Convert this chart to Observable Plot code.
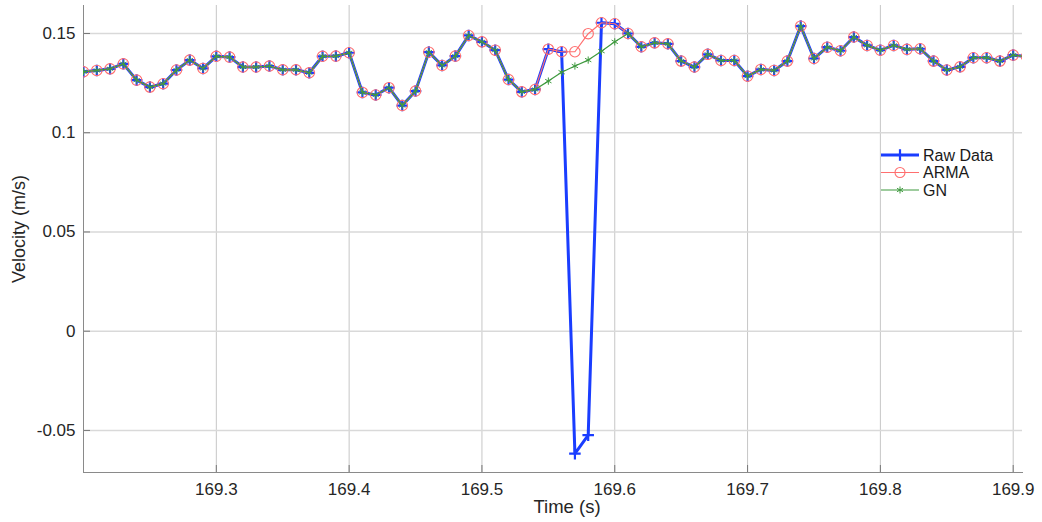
<!DOCTYPE html>
<html>
<head>
<meta charset="utf-8">
<script src="https://cdn.jsdelivr.net/npm/d3@7"></script>
<script src="https://cdn.jsdelivr.net/npm/@observablehq/plot@0.6"></script>
<style>
  body { margin: 0; background: #fff; }
  #wrap { position: relative; width: 1042px; height: 522px; font-family: "Liberation Sans", Arial, sans-serif; }
  #legend { position: absolute; left: 878px; top: 145px; }
</style>
</head>
<body>
<div id="wrap"></div>
<script>
// Sample instants (s), 10 ms apart
const time = [
  169.20, 169.21, 169.22, 169.23, 169.24, 169.25, 169.26, 169.27, 169.28, 169.29,
  169.30, 169.31, 169.32, 169.33, 169.34, 169.35, 169.36, 169.37, 169.38, 169.39,
  169.40, 169.41, 169.42, 169.43, 169.44, 169.45, 169.46, 169.47, 169.48, 169.49,
  169.50, 169.51, 169.52, 169.53, 169.54, 169.55, 169.56, 169.57, 169.58, 169.59,
  169.60, 169.61, 169.62, 169.63, 169.64, 169.65, 169.66, 169.67, 169.68, 169.69,
  169.70, 169.71, 169.72, 169.73, 169.74, 169.75, 169.76, 169.77, 169.78, 169.79,
  169.80, 169.81, 169.82, 169.83, 169.84, 169.85, 169.86, 169.87, 169.88, 169.89,
  169.90, 169.91
];

// Measured velocity (m/s), with the dropout at 169.57–169.58
const rawData = [
  0.1307, 0.1314, 0.1322, 0.1347, 0.1265, 0.1230, 0.1247, 0.1316, 0.1366, 0.1324,
  0.1385, 0.1381, 0.1331, 0.1331, 0.1336, 0.1317, 0.1317, 0.1302, 0.1385, 0.1386,
  0.1403, 0.1203, 0.1190, 0.1227, 0.1137, 0.1210, 0.1406, 0.1339, 0.1386, 0.1490,
  0.1458, 0.1416, 0.1268, 0.1206, 0.1218, 0.1421, 0.1408, -0.0617, -0.0524, 0.1554,
  0.1549, 0.1500, 0.1433, 0.1453, 0.1448, 0.1361, 0.1331, 0.1395, 0.1364, 0.1364,
  0.1285, 0.1319, 0.1314, 0.1361, 0.1537, 0.1374, 0.1431, 0.1413, 0.1482, 0.1440,
  0.1416, 0.1440, 0.1420, 0.1423, 0.1361, 0.1316, 0.1332, 0.1378, 0.1378, 0.1361,
  0.1391, 0.1384
];

// ARMA-corrected series
const armaData = [
  0.1307, 0.1314, 0.1322, 0.1347, 0.1265, 0.1230, 0.1247, 0.1316, 0.1366, 0.1324,
  0.1385, 0.1381, 0.1331, 0.1331, 0.1336, 0.1317, 0.1317, 0.1302, 0.1385, 0.1386,
  0.1403, 0.1203, 0.1190, 0.1227, 0.1137, 0.1210, 0.1406, 0.1339, 0.1386, 0.1490,
  0.1458, 0.1416, 0.1268, 0.1206, 0.1218, 0.1421, 0.1408, 0.1408, 0.1499, 0.1554,
  0.1549, 0.1500, 0.1433, 0.1453, 0.1448, 0.1361, 0.1331, 0.1395, 0.1364, 0.1364,
  0.1285, 0.1319, 0.1314, 0.1361, 0.1537, 0.1374, 0.1431, 0.1413, 0.1482, 0.1440,
  0.1416, 0.1440, 0.1420, 0.1423, 0.1361, 0.1316, 0.1332, 0.1378, 0.1378, 0.1361,
  0.1391, 0.1384
];

// GN-corrected series
const gnData = [
  0.1307, 0.1314, 0.1322, 0.1347, 0.1265, 0.1230, 0.1247, 0.1316, 0.1366, 0.1324,
  0.1385, 0.1381, 0.1331, 0.1331, 0.1336, 0.1317, 0.1317, 0.1302, 0.1385, 0.1386,
  0.1403, 0.1203, 0.1190, 0.1227, 0.1137, 0.1210, 0.1406, 0.1339, 0.1386, 0.1490,
  0.1458, 0.1416, 0.1268, 0.1206, 0.1218, 0.1260, 0.1305, 0.1336, 0.1366, 0.1411,
  0.1458, 0.1500, 0.1433, 0.1453, 0.1448, 0.1361, 0.1331, 0.1395, 0.1364, 0.1364,
  0.1285, 0.1319, 0.1314, 0.1361, 0.1537, 0.1374, 0.1431, 0.1413, 0.1482, 0.1440,
  0.1416, 0.1440, 0.1420, 0.1423, 0.1361, 0.1316, 0.1332, 0.1378, 0.1378, 0.1361,
  0.1391, 0.1384
];

const xTicks = [169.3, 169.4, 169.5, 169.6, 169.7, 169.8, 169.9];
const xTickLabels = ["169.3", "169.4", "169.5", "169.6", "169.7", "169.8", "169.9"];
const yTicks = [-0.05, 0, 0.05, 0.1, 0.15];
const yTickLabels = ["-0.05", "0", "0.05", "0.1", "0.15"];

const seriesNames = ["Raw Data", "ARMA", "GN"];
const xTitle = "Time (s)";
const yTitle = "Velocity (m/s)";

const BLUE = "#1a3dff";
const RED = "#ff6f6f";
const GREEN = "#3f9a3f";

const rows = time.map((t, i) => ({t, raw: rawData[i], arma: armaData[i], gn: gnData[i]}));
const xLab = new Map(xTicks.map((v, i) => [v, xTickLabels[i]]));
const yLab = new Map(yTicks.map((v, i) => [v, yTickLabels[i]]));

const chart = Plot.plot({
  width: 1042,
  height: 522,
  marginLeft: 83,
  marginRight: 20,
  marginTop: 5,
  marginBottom: 50,
  style: {fontFamily: "'Liberation Sans', Arial, sans-serif", fontSize: "17px", color: "#262626", background: "#fff"},
  x: {domain: [169.2, 169.907]},
  y: {domain: [-0.0712, 0.1641]},
  marks: [
    Plot.gridX(xTicks, {stroke: "#c6c6c6", strokeOpacity: 1}),
    Plot.gridY(yTicks, {stroke: "#d9d9d9", strokeOpacity: 1, strokeWidth: 1.5}),
    Plot.axisX(xTicks, {tickSize: 0, tickPadding: 10, tickFormat: d => xLab.get(d), fontSize: 17, label: null}),
    Plot.axisX(xTicks, {tickSize: 7, text: null, dy: -7, stroke: "#777", label: null}),
    Plot.axisY(yTicks, {tickSize: 0, tickPadding: 8, tickFormat: d => yLab.get(d), fontSize: 17, label: null}),
    Plot.axisY(yTicks, {tickSize: 7, text: null, dx: 7, stroke: "#777", label: null}),
    Plot.frame({anchor: "left", stroke: "#8a8a8a"}),
    Plot.frame({anchor: "bottom", stroke: "#8a8a8a"}),
    // Raw Data
    Plot.line(rows, {x: "t", y: "raw", stroke: BLUE, strokeWidth: 3, clip: true}),
    Plot.dot(rows, {x: "t", y: "raw", symbol: "plus", r: 3.8, stroke: BLUE, strokeWidth: 2.2, clip: true}),
    // ARMA
    Plot.line(rows, {x: "t", y: "arma", stroke: RED, strokeWidth: 1.2, clip: true}),
    Plot.dot(rows, {x: "t", y: "arma", symbol: "circle", r: 5.2, stroke: RED, strokeWidth: 1.1, fill: "none", clip: true}),
    // GN
    Plot.line(rows, {x: "t", y: "gn", stroke: GREEN, strokeWidth: 1.2, clip: true}),
    Plot.dot(rows, {x: "t", y: "gn", symbol: "asterisk", r: 3.4, stroke: GREEN, strokeWidth: 1, clip: true}),
    // Axis titles
    Plot.text([xTitle], {frameAnchor: "bottom", textAnchor: "middle", lineAnchor: "middle", dy: 35, dx: 14, fontSize: 18.5, fill: "#262626"}),
    Plot.text([yTitle], {frameAnchor: "left", textAnchor: "middle", lineAnchor: "middle", dx: -64, dy: -10, rotate: -90, fontSize: 18, fill: "#262626"})
  ]
});

const wrap = document.getElementById("wrap");
wrap.appendChild(chart);

// Legend overlay
const legendStyles = [
  {color: BLUE, width: 3, symbol: d3.symbolPlus, size: 45, sw: 2.2},
  {color: RED, width: 1.1, symbol: null, size: 0, sw: 1.1},
  {color: GREEN, width: 1.1, symbol: d3.symbolAsterisk, size: 34, sw: 1}
];
const leg = d3.select(wrap).append("svg")
  .attr("id", "legend")
  .attr("width", 150).attr("height", 58);
seriesNames.forEach((name, i) => {
  const s = legendStyles[i];
  const g = leg.append("g").attr("transform", `translate(0,${10 + i * 17.5})`);
  g.append("line").attr("x1", 3).attr("x2", 41).attr("y1", 0).attr("y2", 0)
    .attr("stroke", s.color).attr("stroke-width", s.width);
  if (s.symbol) {
    g.append("path").attr("d", d3.symbol(s.symbol, s.size)())
      .attr("transform", "translate(22,0)").attr("fill", "none")
      .attr("stroke", s.color).attr("stroke-width", s.sw);
  } else {
    g.append("circle").attr("cx", 22).attr("cy", 0).attr("r", 5)
      .attr("fill", "none").attr("stroke", s.color).attr("stroke-width", s.sw);
  }
  g.append("text").attr("x", 45).attr("y", 0).attr("dy", "0.35em")
    .attr("font-size", 16).attr("fill", "#1a1a1a")
    .attr("font-family", "'Liberation Sans', Arial, sans-serif")
    .text(name);
});
</script>
</body>
</html>
